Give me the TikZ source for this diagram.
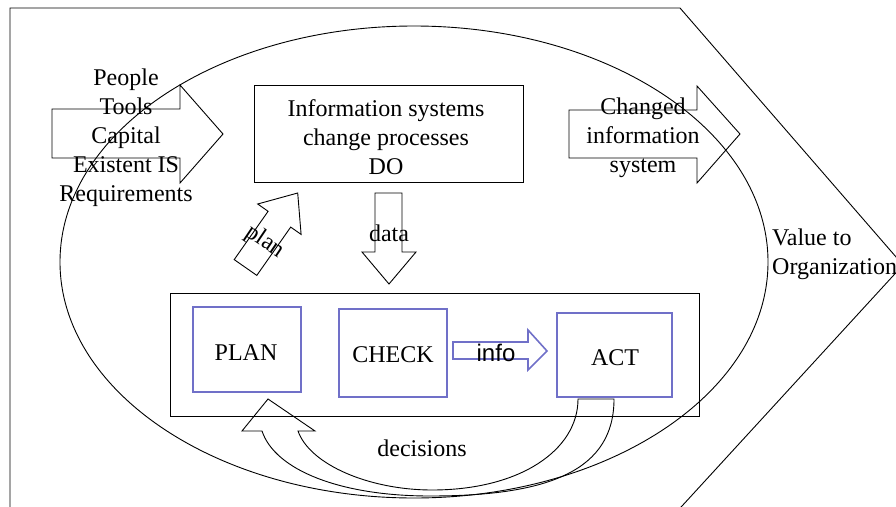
\documentclass[tikz,border=0pt]{standalone}
\usepackage{fontspec}
\setmainfont{Liberation Serif}
\newfontfamily\arialfont{Liberation Sans}
\definecolor{pdcablue}{RGB}{112,112,200}
\begin{document}
\begin{tikzpicture}[x=1pt,y=-1pt,line join=miter,
  outline/.style={draw=black,line width=0.9pt},
  txt/.style={inner sep=0pt,align=center,font=\fontsize{24}{29}\selectfont},
  bluebox/.style={draw=pdcablue,line width=1.8pt,inner sep=0pt}]
\useasboundingbox (0,0) rectangle (896,506);
\clip (0,0) rectangle (896,506);

% organisation frame (pentagon arrow) and the change-process ellipse
\draw[outline] (10,530) -- (10,8) -- (680,8) -- (903,265) -- (660,530);
\draw[outline] (414,262) ellipse [x radius=354, y radius=236];

% inputs
\node[txt] (inputs) at (126,138) {People\\Tools\\Capital\\Existent IS\\Requirements};
\draw[outline] (52,109) -- (180,109) -- (180,85) -- (223,134) -- (180,183) -- (180,158) -- (52,158) -- cycle;

% DO box
\node[outline,minimum width=269pt,minimum height=97pt] (do) at (388.5,133.5) {};
\node[txt] (dotxt) at (386,137) {Information systems\\change processes\\DO};

% output
\draw[outline] (569,110) -- (697,110) -- (697,86) -- (740,134) -- (697,183) -- (697,158) -- (569,158) -- cycle;
\node[txt] (out) at (643,138) {Changed\\information\\system};

% value
\node[txt,align=left,anchor=west] (value) at (772,254) {Value to\\Organization};

% plan arrow (pointing up-right into the DO box)
\draw[outline] (234.2,259.6) -- (268.1,211.3) -- (257.7,204.0) -- (297.7,193.0)
  -- (301.1,234.4) -- (290.7,227.1) -- (256.8,275.4) -- cycle;
\node[txt,rotate=-34] (plantxt) at (265,242) {plan};

% data arrow
\draw[outline] (375,193) -- (402,193) -- (402,252) -- (416,252) -- (389,284) -- (362,252) -- (375,252) -- cycle;
\node[txt] (datatxt) at (389,233) {data};

% management cycle
\node[outline,minimum width=529pt,minimum height=123pt] (cycle) at (434.5,354.5) {};
\node[bluebox,minimum width=108pt,minimum height=85pt] (plan) at (247,349.5) {};
\node[bluebox,minimum width=108pt,minimum height=88pt] (check) at (393,353) {};
\node[bluebox,minimum width=115pt,minimum height=84pt] (act) at (614.5,355) {};
\node[txt] (plantitle) at (246,353) {PLAN};
\node[txt] (checktitle) at (393,355) {CHECK};
\node[txt] (acttitle) at (615,358) {ACT};

% info arrow
\draw[draw=pdcablue,line width=1.6pt] (453,342) -- (528,342) -- (528,330) -- (547,351) -- (528,370) -- (528,359) -- (453,359) -- cycle;
\node[txt,font=\arialfont\fontsize{24}{29}\selectfont] (infotxt) at (496,353) {info};

% decisions: curved arrow from ACT back to PLAN
\draw[outline] (578,399) -- (614,399)
  .. controls (614,470) and (550,496) .. (430,496)
  .. controls (340,496) and (275,470) .. (262,431)
  -- (242,431) -- (268,399) -- (315,431) -- (298,431)
  .. controls (310,465) and (370,490) .. (432,490)
  .. controls (520,490) and (578,450) .. (578,399) -- cycle;
\node[txt] (decisions) at (422,448) {decisions};
\end{tikzpicture}
\end{document}
